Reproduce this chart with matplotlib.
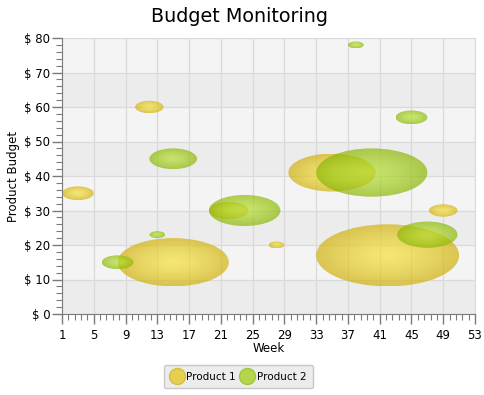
import numpy as np
import matplotlib
matplotlib.use("Agg")
import matplotlib.pyplot as plt
from matplotlib.patches import Ellipse
from matplotlib.lines import Line2D
from matplotlib.ticker import FixedLocator, MultipleLocator, FuncFormatter

# data: week, budget, bubble radius
p1_week = [3, 12, 15, 22, 28, 35, 42, 49]
p1_budget = [35, 60, 15, 30, 20, 41, 17, 30]
p1_size = [2, 1.8, 7, 2.5, 1, 5.5, 9, 1.8]

p2_week = [8, 13, 15, 24, 38, 40, 45, 47]
p2_budget = [15, 23, 45, 30, 78, 41, 57, 23]
p2_size = [2, 1, 3, 4.5, 1, 7, 2, 3.8]

series_names = ["Product 1", "Product 2"]

# gradient colours (centre, edge)
yellow = (np.array([246, 225, 60]) / 255, np.array([208, 176, 12]) / 255)
green = (np.array([183, 223, 52]) / 255, np.array([138, 183, 4]) / 255)
ALPHA = 0.7

plt.rcParams['font.family'] = 'DejaVu Sans'

fig = plt.figure(figsize=(4.85, 3.95), dpi=100)
ax = fig.add_axes([62 / 485, 1 - 314 / 395, 413 / 485, 276 / 395])

ax.set_xlim(1, 53)
ax.set_ylim(0, 80)
ax.set_facecolor('#f4f4f4')
for lo in range(0, 80, 20):
    ax.axhspan(lo, lo + 10, color='#ececec', zorder=0, lw=0)

ax.xaxis.set_major_locator(FixedLocator(np.arange(1, 54, 4)))
ax.xaxis.set_minor_locator(FixedLocator(np.arange(1, 53.01, 0.8)))
ax.yaxis.set_major_locator(MultipleLocator(10))
ax.yaxis.set_minor_locator(MultipleLocator(2))
ax.yaxis.set_major_formatter(FuncFormatter(lambda v, p: f"$ {int(v)}"))

ax.grid(True, which='major', color='#dadada', lw=0.9, zorder=0.5)
ax.set_axisbelow(True)

ax.tick_params(which='major', length=7, width=1, color='#7a7a7a', labelsize=8.5, pad=1.5)
ax.tick_params(which='minor', length=4, width=0.8, color='#7a7a7a')
ax.tick_params(axis='x', which='major', pad=4)

ax.spines['top'].set_visible(False)
ax.spines['right'].set_color('#dadada')
ax.spines['left'].set_color('#7a7a7a')
ax.spines['bottom'].set_color('#7a7a7a')


def bubble(x, y, r, cols):
    n = 140
    xs = np.linspace(x - r, x + r, n)
    ys = np.linspace(y - r, y + r, n)
    X, Y = np.meshgrid(xs, ys)
    d = np.clip(np.sqrt(((X - x) / r) ** 2 + ((Y - y) / r) ** 2), 0, 1) ** 1.3
    img = np.zeros((n, n, 4))
    for k in range(3):
        img[..., k] = cols[0][k] * (1 - d) + cols[1][k] * d
    img[..., 3] = ALPHA
    im = ax.imshow(img, extent=(x - r, x + r, y - r, y + r), origin='lower',
                   aspect='auto', zorder=2, interpolation='bilinear')
    clip = Ellipse((x, y), 2 * r, 2 * r, transform=ax.transData)
    im.set_clip_path(clip)


for x, y, r in zip(p1_week, p1_budget, p1_size):
    bubble(x, y, r, yellow)
for x, y, r in zip(p2_week, p2_budget, p2_size):
    bubble(x, y, r, green)

ax.set_xlim(1, 53)
ax.set_ylim(0, 80)

ax.set_xlabel("Week", fontsize=8.5, labelpad=0)
ax.set_ylabel("Product Budget", fontsize=8.5, labelpad=3)
fig.text(240 / 485, 1 - 16 / 395, "Budget Monitoring", ha='center', va='center', fontsize=13.8)

handles = [
    Line2D([], [], ls='', marker='o', markersize=11.5, markerfacecolor='#e6cf4f',
           markeredgecolor='#d8bd3e', label=series_names[0]),
    Line2D([], [], ls='', marker='o', markersize=11.5, markerfacecolor='#b4d64a',
           markeredgecolor='#a2c63a', label=series_names[1]),
]
leg = fig.legend(handles=handles, loc='center', bbox_to_anchor=(238.5 / 485, 1 - 376.5 / 395),
                 ncol=2, fontsize=7.5, frameon=True, fancybox=True, handletextpad=0.3,
                 columnspacing=0.5, handlelength=1.2, borderpad=0.6, borderaxespad=0)
leg.get_frame().set_facecolor('#ececec')
leg.get_frame().set_edgecolor('#c8c8c8')
leg.get_frame().set_alpha(1)

fig.savefig("out.png", dpi=100)
